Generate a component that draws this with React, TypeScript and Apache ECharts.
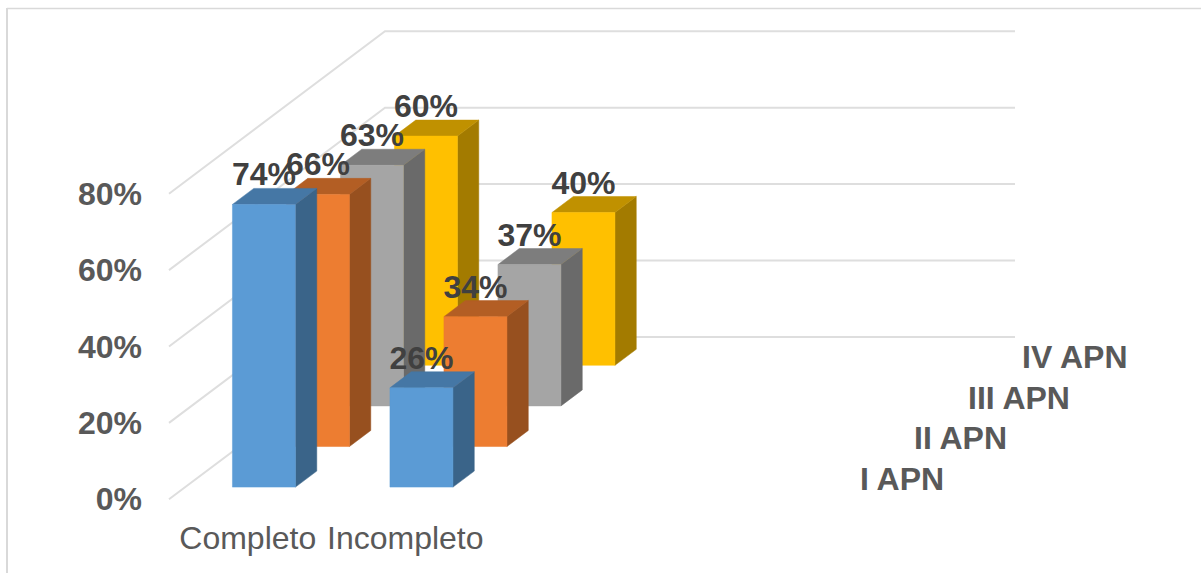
import React, { useEffect, useRef } from "react";
import * as echarts from "echarts";

// Four category slots: the two right-hand ones stay empty, as on the source sheet.
const categories = ["Completo", "Incompleto", "", ""];
const depthNames = ["I APN", "II APN", "III APN", "IV APN"];
const valuesByDepth = [
  [0.74, 0.26],
  [0.66, 0.34],
  [0.63, 0.37],
  [0.6, 0.4],
];
const yTicks = [0, 0.2, 0.4, 0.6, 0.8];
const faceColors = ["#5B9BD5", "#ED7D31", "#A5A5A5", "#FFC000"];
const topColors = ["#4577A5", "#B35E24", "#7D7D7D", "#C09100"];
const sideColors = ["#3A6489", "#97501F", "#6A6A6A", "#A37B00"];

const FONT = '"Liberation Sans", Arial, sans-serif';
const FONT_SIZE = 32;
const DEPTH_X = 216;
const DEPTH_Y = -162.4;
const SLOTS = depthNames.length;
const BAR_SHARE = 0.4;
const FRONT_GAP = 0.3;
const BAR_DEPTH = 0.395;

const pct = (v: number) => `${Math.round(v * 100)}%`;

// Walls: a diagonal on the side wall and a horizontal on the back wall per tick.
const renderWall = (params: any, api: any) => {
  const cs = params.coordSys;
  const y = api.coord([0, api.value(1)])[1];
  return {
    type: "polyline",
    shape: {
      points: [
        [cs.x, y],
        [cs.x + DEPTH_X, y + DEPTH_Y],
        [cs.x + cs.width + DEPTH_X, y + DEPTH_Y],
      ],
    },
    style: { stroke: "#DEDEDE", lineWidth: 2, fill: "none" },
    silent: true,
  };
};

// One extruded column: front face, top and right-hand side, pushed back by its depth slot.
const renderColumn = (depth: number) => (_params: any, api: any) => {
  const cat = api.value(0);
  const [cx, yTop] = api.coord([cat, api.value(1)]);
  const yBase = api.coord([cat, 0])[1];
  const w = api.size([1, 0])[0] * BAR_SHARE;
  const ox = (DEPTH_X * (depth + FRONT_GAP)) / SLOTS;
  const oy = (DEPTH_Y * (depth + FRONT_GAP)) / SLOTS;
  const dx = (DEPTH_X * BAR_DEPTH) / SLOTS;
  const dy = (DEPTH_Y * BAR_DEPTH) / SLOTS;
  const l = cx - w / 2 + ox;
  const r = cx + w / 2 + ox;
  const t = yTop + oy;
  const b = yBase + oy;
  const poly = (points: number[][], fill: string) => ({
    type: "polygon",
    shape: { points },
    style: { fill, stroke: fill, lineWidth: 0.5 },
  });
  return {
    type: "group",
    children: [
      poly([[r, t], [r + dx, t + dy], [r + dx, b + dy], [r, b]], sideColors[depth]),
      poly([[l, t], [l + dx, t + dy], [r + dx, t + dy], [r, t]], topColors[depth]),
      poly([[l, t], [r, t], [r, b], [l, b]], faceColors[depth]),
    ],
  };
};

// Value labels sit above the front face and stay on top of every column.
const renderValueLabel = (depth: number) => (_params: any, api: any) => {
  const v = api.value(1);
  const [cx, yTop] = api.coord([api.value(0), v]);
  return {
    type: "text",
    x: cx + (DEPTH_X * (depth + FRONT_GAP)) / SLOTS,
    y: yTop + (DEPTH_Y * (depth + FRONT_GAP)) / SLOTS - 30,
    style: {
      text: pct(v),
      font: `bold ${FONT_SIZE}px ${FONT}`,
      fill: "#404040",
      align: "center",
      verticalAlign: "middle",
    },
  };
};

// Depth axis captions step back along the floor's right-hand edge.
const renderDepthName = (params: any, api: any) => {
  const cs = params.coordSys;
  const i = api.value(0);
  const y0 = api.coord([0, 0])[1];
  return {
    type: "text",
    x: cs.x + cs.width + (DEPTH_X * (i + 0.5)) / SLOTS + 34,
    y: y0 + (DEPTH_Y * (i + 0.5)) / SLOTS,
    style: {
      text: depthNames[i],
      font: `bold ${FONT_SIZE}px ${FONT}`,
      fill: "#595959",
      align: "left",
      verticalAlign: "middle",
    },
  };
};

export default function App() {
  const ref = useRef<HTMLDivElement>(null);

  useEffect(() => {
    document.body.style.margin = "0";
    const chart = echarts.init(ref.current!, undefined, { renderer: "svg" });
    const back = [3, 2, 1, 0];
    const toRows = (vals: number[]) => vals.map((v, c) => [c, v]);
    chart.setOption({
      animation: false,
      backgroundColor: "#FFFFFF",
      grid: { left: 169, top: 193.7, width: 630, height: 305.6 },
      xAxis: {
        type: "category",
        data: categories,
        axisLine: { show: false },
        axisTick: { show: false },
        splitLine: { show: false },
        axisLabel: {
          interval: 0,
          margin: 23,
          fontFamily: FONT,
          fontSize: FONT_SIZE,
          color: "#595959",
        },
      },
      yAxis: {
        type: "value",
        min: 0,
        max: 0.8,
        interval: 0.2,
        axisLine: { show: false },
        axisTick: { show: false },
        splitLine: { show: false },
        axisLabel: {
          margin: 27,
          formatter: (v: number) => pct(v),
          fontFamily: FONT,
          fontSize: FONT_SIZE,
          fontWeight: "bold",
          color: "#595959",
        },
      },
      graphic: [
        {
          type: "line",
          shape: { x1: 7, y1: 8.5, x2: 1201, y2: 8.5 },
          style: { stroke: "#D9D9D9", lineWidth: 1.4 },
          silent: true,
        },
        {
          type: "line",
          shape: { x1: 7, y1: 8, x2: 7, y2: 573 },
          style: { stroke: "#D9D9D9", lineWidth: 2 },
          silent: true,
        },
      ],
      series: [
        {
          type: "custom",
          name: "walls",
          z: 1,
          silent: true,
          renderItem: renderWall,
          data: yTicks.map((t) => [0, t]),
        },
        ...back.map((d) => ({
          type: "custom",
          name: depthNames[d],
          z: 10 + (SLOTS - d),
          silent: true,
          renderItem: renderColumn(d),
          data: toRows(valuesByDepth[d]),
        })),
        ...back.map((d) => ({
          type: "custom",
          name: `${depthNames[d]} labels`,
          z: 30 + d,
          silent: true,
          renderItem: renderValueLabel(d),
          data: toRows(valuesByDepth[d]),
        })),
        {
          type: "custom",
          name: "depth axis",
          z: 40,
          silent: true,
          renderItem: renderDepthName,
          data: depthNames.map((_, i) => [i, 0]),
        },
      ],
    });
    return () => chart.dispose();
  }, []);

  return <div ref={ref} style={{ width: 1201, height: 573 }} />;
}
